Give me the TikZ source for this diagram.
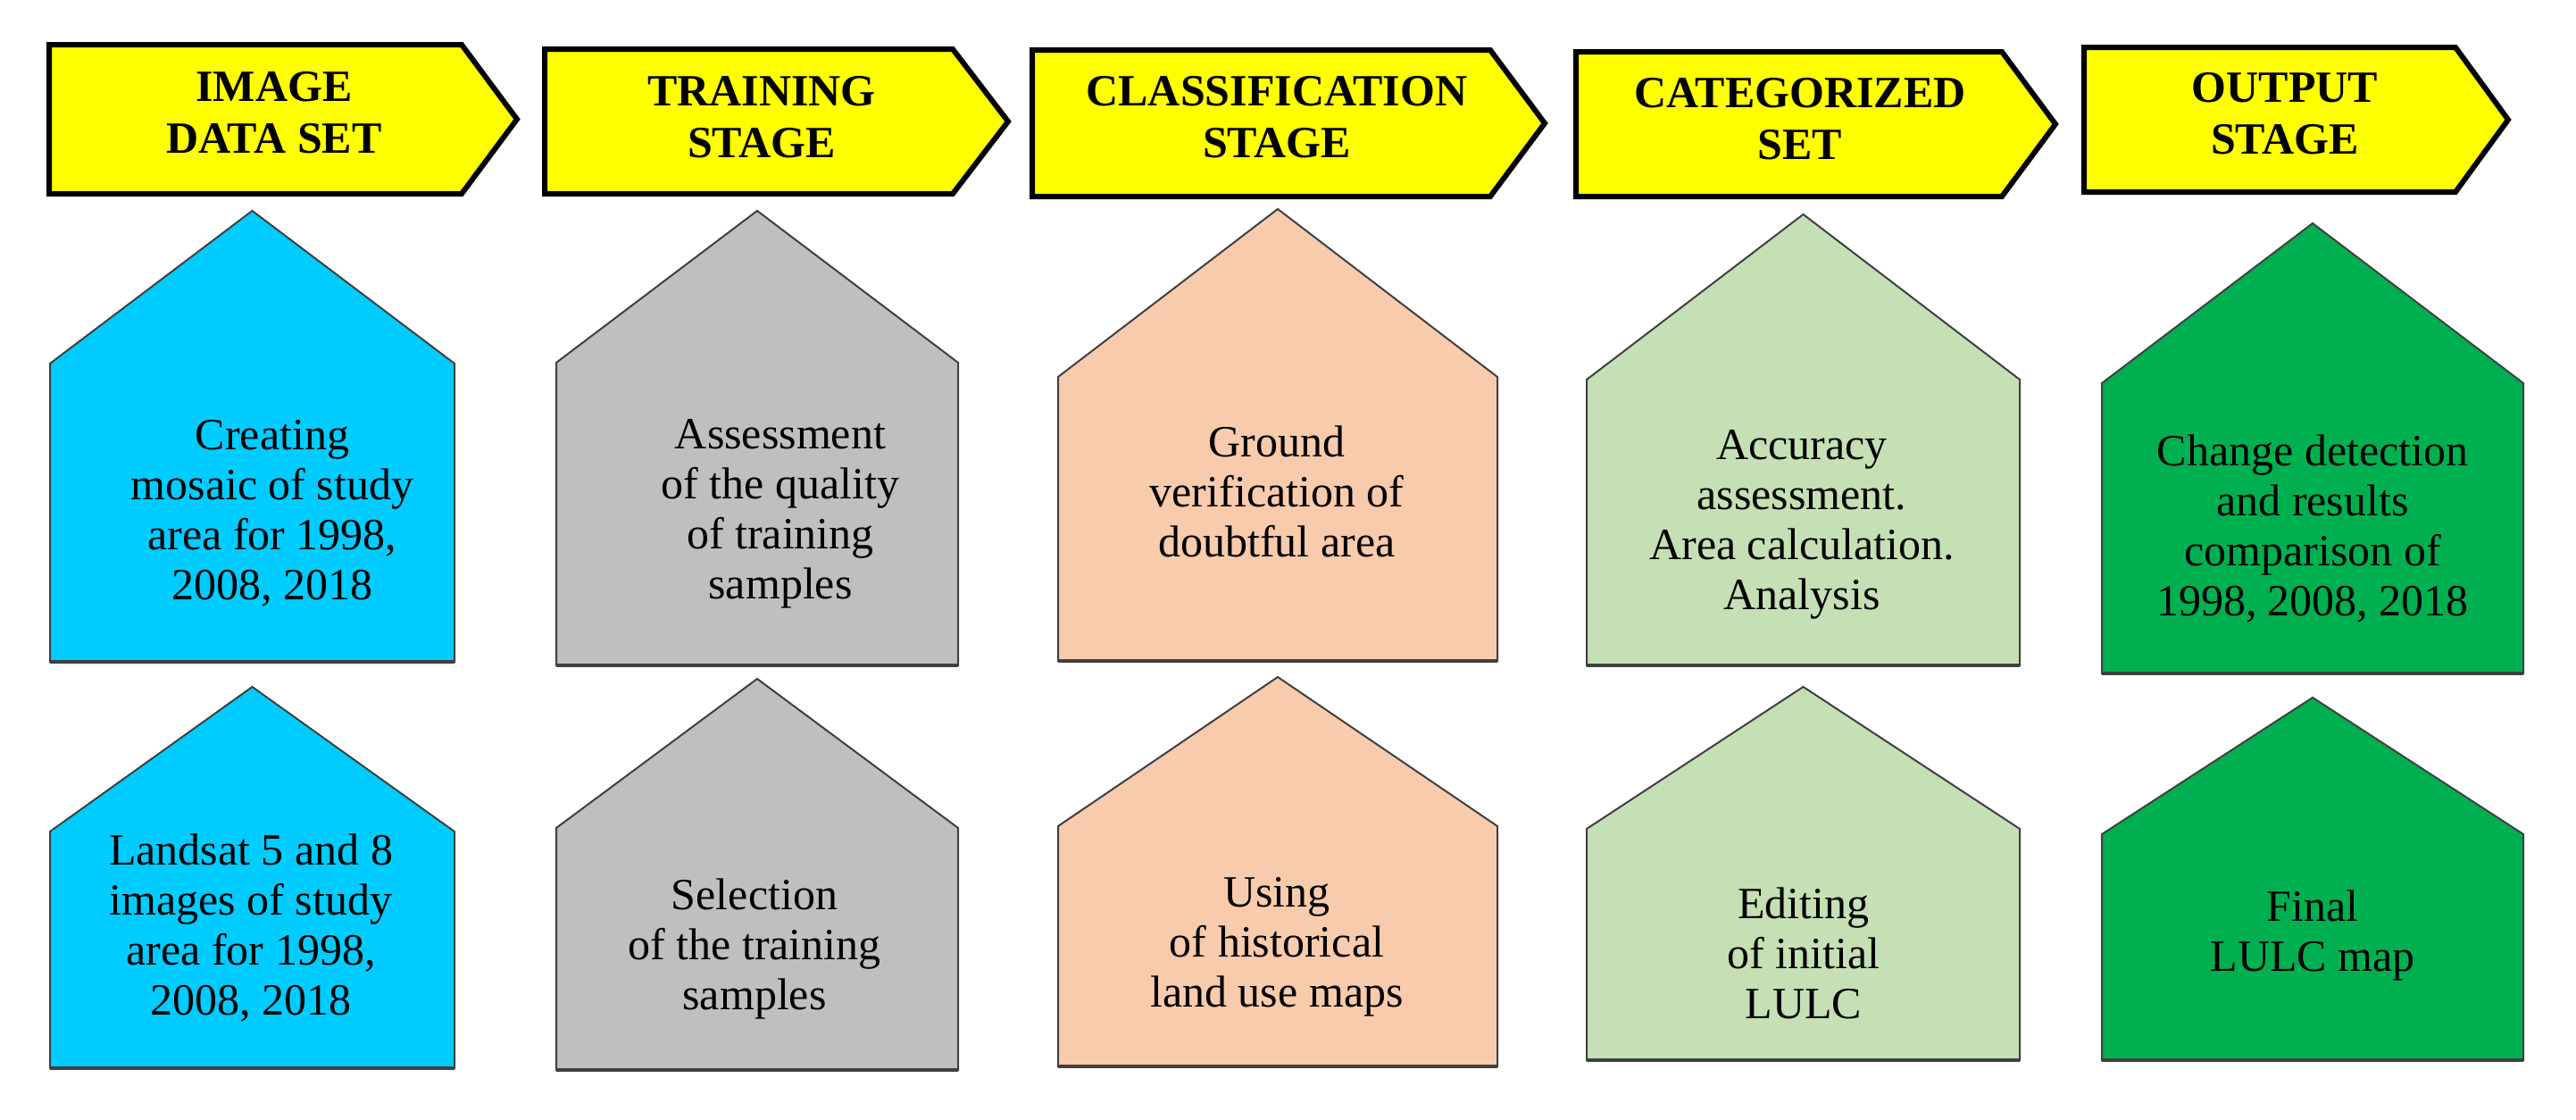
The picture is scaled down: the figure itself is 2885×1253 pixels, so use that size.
\documentclass[tikz,border=0pt]{standalone}
\usepackage{fontspec}
\setmainfont{Liberation Serif}
\usepackage{tikz}
\definecolor{StageYellow}{RGB}{255,255,0}
\definecolor{SkyBlue}{RGB}{0,204,255}
\definecolor{SampleGrey}{RGB}{191,191,191}
\definecolor{Peach}{RGB}{248,203,173}
\definecolor{PaleGreen}{RGB}{197,224,180}
\definecolor{LeafGreen}{RGB}{0,176,80}
\definecolor{HouseRim}{RGB}{64,64,64}
\tikzstyle{banner} = [draw=black, fill=StageYellow, line width=6pt, line join=miter]
\tikzstyle{house} = [draw=HouseRim, line width=2pt, line join=miter]
\tikzstyle{houserim} = [draw=HouseRim, line width=4pt]
\tikzstyle{stagetext} = [font=\fontsize{50}{58}\selectfont\bfseries, align=center, inner sep=0pt]
\tikzstyle{boxtext} = [font=\fontsize{50}{56}\selectfont, align=center, inner sep=0pt]

\begin{document}
\begin{tikzpicture}[x=1pt, y=-1pt]
    \useasboundingbox [fill=white] (0,0) rectangle (2885,1253);

    % stage banners
    \path [banner] (55,50) -- (517,50) -- (579,133.5) -- (517,217) -- (55,217) -- cycle;
    \path [banner] (610,55) -- (1067,55) -- (1129,136) -- (1067,217) -- (610,217) -- cycle;
    \path [banner] (1156,56) -- (1669,56) -- (1730,138) -- (1669,220) -- (1156,220) -- cycle;
    \path [banner] (1765,58) -- (2242,58) -- (2302,139) -- (2242,220) -- (1765,220) -- cycle;
    \path [banner] (2334,53) -- (2750,53) -- (2809,134) -- (2750,215) -- (2334,215) -- cycle;

    \node (imgstage)  [stagetext] at (307,126)   {IMAGE\\DATA SET};
    \node (trainstage)[stagetext] at (853,131)   {TRAINING\\STAGE};
    \node (classstage)[stagetext] at (1430,131.5){CLASSIFICATION\\STAGE};
    \node (catstage)  [stagetext] at (2016,133)  {CATEGORIZED\\SET};
    \node (outstage)  [stagetext] at (2559,127.5){OUTPUT\\STAGE};

    % upper row
    \path [house, fill=SkyBlue]    (56,407) -- (282.5,236) -- (509,407) -- (509,741) -- (56,741) -- cycle;
    \draw [houserim] (56,741) -- (509,741);
    \path [house, fill=SampleGrey] (623,406) -- (848,236) -- (1073,406) -- (1073,745) -- (623,745) -- cycle;
    \draw [houserim] (623,745) -- (1073,745);
    \path [house, fill=Peach]      (1185,422) -- (1431,234) -- (1677,422) -- (1677,740) -- (1185,740) -- cycle;
    \draw [houserim] (1185,740) -- (1677,740);
    \path [house, fill=PaleGreen]  (1777,425) -- (2019.5,240) -- (2262,425) -- (2262,745) -- (1777,745) -- cycle;
    \draw [houserim] (1777,745) -- (2262,745);
    \path [house, fill=LeafGreen]  (2354,429) -- (2590,250) -- (2826,429) -- (2826,754) -- (2354,754) -- cycle;
    \draw [houserim] (2354,754) -- (2826,754);

    \node (mosaic)   [boxtext] at (305,575)  {Creating\\mosaic of study\\area for 1998,\\2008, 2018};
    \node (quality)  [boxtext] at (874,575)  {Assessment\\of the quality\\of training\\samples};
    \node (ground)   [boxtext] at (1430,550) {Ground\\verification of\\doubtful area};
    \node (accuracy) [boxtext] at (2018,587) {Accuracy\\assessment.\\Area calculation.\\Analysis};
    \node (change)   [boxtext] at (2590,592) {Change detection\\and results\\comparison of\\1998, 2008, 2018};

    % lower row
    \path [house, fill=SkyBlue]    (56,931) -- (282.5,769) -- (509,931) -- (509,1196) -- (56,1196) -- cycle;
    \draw [houserim] (56,1196) -- (509,1196);
    \path [house, fill=SampleGrey] (623,927) -- (848,760) -- (1073,927) -- (1073,1198) -- (623,1198) -- cycle;
    \draw [houserim] (623,1198) -- (1073,1198);
    \path [house, fill=Peach]      (1185,925) -- (1431,758) -- (1677,925) -- (1677,1194) -- (1185,1194) -- cycle;
    \draw [houserim] (1185,1194) -- (1677,1194);
    \path [house, fill=PaleGreen]  (1777,928) -- (2019.5,769) -- (2262,928) -- (2262,1187) -- (1777,1187) -- cycle;
    \draw [houserim] (1777,1187) -- (2262,1187);
    \path [house, fill=LeafGreen]  (2354,934) -- (2590,781) -- (2826,934) -- (2826,1187) -- (2354,1187) -- cycle;
    \draw [houserim] (2354,1187) -- (2826,1187);

    \node (landsat)  [boxtext] at (281,1039)  {Landsat 5 and 8\\images of study\\area for 1998,\\2008, 2018};
    \node (select)   [boxtext] at (845,1062)  {Selection\\of the training\\samples};
    \node (histmaps) [boxtext] at (1430,1060) {Using\\of historical\\land use maps};
    \node (editing)  [boxtext] at (2020,1067) {Editing\\of initial\\LULC};
    \node (final)    [boxtext] at (2590,1047) {Final\\LULC map};
\end{tikzpicture}
\end{document}
